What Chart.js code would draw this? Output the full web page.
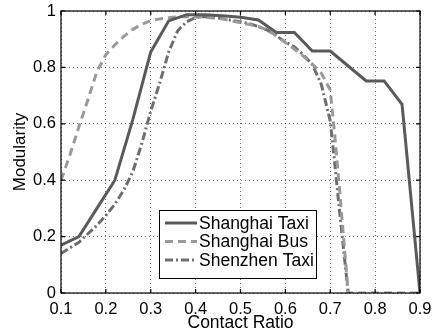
<!DOCTYPE html>
<html>
<head>
<meta charset="utf-8">
<script src="https://cdn.jsdelivr.net/npm/chart.js@4.4.1/dist/chart.umd.min.js"></script>
<style>
  html, body { margin: 0; padding: 0; background: #fff; }
  canvas { display: block; }
</style>
</head>
<body>
<canvas id="chart" width="436" height="334"></canvas>
<script>
// Contact ratio (x) and modularity (y) for each network
const taxiX = [0.10, 0.14, 0.18, 0.22, 0.26, 0.30, 0.34, 0.38, 0.42, 0.46, 0.50,
               0.54, 0.58, 0.62, 0.66, 0.70, 0.74, 0.78, 0.82, 0.86, 0.90];
const taxiY = [0.170, 0.200, 0.300, 0.400, 0.615, 0.855, 0.965, 0.987, 0.987, 0.983, 0.978,
               0.968, 0.924, 0.924, 0.858, 0.858, 0.805, 0.752, 0.752, 0.669, 0.000];

const busX = [0.10, 0.12, 0.14, 0.16, 0.18, 0.20, 0.22, 0.24, 0.26, 0.28, 0.30,
              0.32, 0.34, 0.36, 0.38, 0.40, 0.42, 0.44, 0.46, 0.48, 0.50,
              0.52, 0.54, 0.56, 0.58, 0.60, 0.62, 0.64, 0.66, 0.68, 0.70,
              0.71, 0.72, 0.73, 0.74, 0.76, 0.78, 0.80, 0.82, 0.84, 0.86, 0.88, 0.90];
const busY = [0.400, 0.490, 0.590, 0.685, 0.785, 0.845, 0.880, 0.910, 0.935, 0.953, 0.966,
              0.972, 0.976, 0.979, 0.980, 0.979, 0.978, 0.975, 0.972, 0.965, 0.958,
              0.952, 0.945, 0.932, 0.912, 0.888, 0.865, 0.840, 0.812, 0.780, 0.720,
              0.560, 0.380, 0.190, 0.000, 0.000, 0.000, 0.000, 0.000, 0.000, 0.000, 0.000, 0.000];

const shenzhenX = [0.10, 0.12, 0.14, 0.16, 0.18, 0.20, 0.22, 0.24, 0.26, 0.28, 0.30,
                   0.32, 0.34, 0.36, 0.38, 0.40, 0.42, 0.44, 0.46, 0.48, 0.50,
                   0.52, 0.54, 0.56, 0.58, 0.60, 0.62, 0.64, 0.66, 0.68, 0.70,
                   0.71, 0.72, 0.73, 0.74];
const shenzhenY = [0.140, 0.160, 0.180, 0.210, 0.240, 0.275, 0.315, 0.365, 0.430, 0.530, 0.645,
                   0.745, 0.855, 0.930, 0.962, 0.977, 0.980, 0.978, 0.973, 0.967, 0.962,
                   0.955, 0.945, 0.932, 0.912, 0.890, 0.873, 0.845, 0.810, 0.740, 0.610,
                   0.460, 0.300, 0.150, 0.000];

const seriesNames = ['Shanghai Taxi', 'Shanghai Bus', 'Shenzhen Taxi'];
const xTickLabels = ['0.1', '0.2', '0.3', '0.4', '0.5', '0.6', '0.7', '0.8', '0.9'];
const yTickLabels = ['0', '0.2', '0.4', '0.6', '0.8', '1'];

const FONT = 'Liberation Sans, Arial, Helvetica, sans-serif';

function pairs(xs, ys) {
  return xs.map((x, i) => ({ x: x, y: ys[i] }));
}

// Box frame with inward tick marks, plus a legend inside the plot area
const framePlugin = {
  id: 'frame',
  afterDraw(chart) {
    const ctx = chart.ctx;
    const a = chart.chartArea;
    const xs = chart.scales.x, ys = chart.scales.y;
    ctx.save();
    ctx.strokeStyle = '#000';
    ctx.lineWidth = 1.2;
    ctx.strokeRect(a.left, a.top, a.right - a.left, a.bottom - a.top);
    const t = 4;
    ctx.beginPath();
    xs.ticks.forEach(tk => {
      const px = xs.getPixelForValue(tk.value);
      ctx.moveTo(px, a.bottom); ctx.lineTo(px, a.bottom - t);
      ctx.moveTo(px, a.top); ctx.lineTo(px, a.top + t);
    });
    ys.ticks.forEach(tk => {
      const py = ys.getPixelForValue(tk.value);
      ctx.moveTo(a.left, py); ctx.lineTo(a.left + t, py);
      ctx.moveTo(a.right, py); ctx.lineTo(a.right - t, py);
    });
    ctx.stroke();

    // legend
    const box = { x: 159, y: 210, w: 157, h: 68 };
    ctx.fillStyle = '#fff';
    ctx.fillRect(box.x, box.y, box.w, box.h);
    ctx.lineWidth = 1;
    ctx.strokeStyle = '#000';
    ctx.strokeRect(box.x + 0.5, box.y + 0.5, box.w, box.h);
    ctx.font = '17.5px ' + FONT;
    ctx.textBaseline = 'middle';
    ctx.textAlign = 'left';
    chart.data.datasets.forEach((ds, i) => {
      const yy = box.y + 13 + i * 18.5;
      ctx.save();
      ctx.strokeStyle = ds.borderColor;
      ctx.lineWidth = ds.borderWidth;
      ctx.setLineDash(ds.borderDash || []);
      ctx.beginPath();
      ctx.moveTo(box.x + 6, yy);
      ctx.lineTo(box.x + 38, yy);
      ctx.stroke();
      ctx.restore();
      ctx.fillStyle = '#000';
      ctx.fillText(ds.label, box.x + 40, yy + 1);
    });
    ctx.restore();
  }
};

new Chart(document.getElementById('chart'), {
  type: 'line',
  data: {
    datasets: [
      {
        label: seriesNames[0],
        data: pairs(taxiX, taxiY),
        borderColor: '#5a5a5a',
        borderWidth: 3,
        borderDash: [],
        pointRadius: 0,
        tension: 0,
        fill: false
      },
      {
        label: seriesNames[1],
        data: pairs(busX, busY),
        borderColor: '#9a9a9a',
        borderWidth: 3,
        borderDash: [8, 5],
        pointRadius: 0,
        tension: 0,
        fill: false
      },
      {
        label: seriesNames[2],
        data: pairs(shenzhenX, shenzhenY),
        borderColor: '#6e6e6e',
        borderWidth: 3,
        borderDash: [8, 3, 2, 3],
        pointRadius: 0,
        tension: 0,
        fill: false
      }
    ]
  },
  options: {
    responsive: false,
    animation: false,
    devicePixelRatio: 1,
    layout: { padding: { top: 11, right: 16, left: 0, bottom: 0 } },
    plugins: {
      legend: { display: false },
      tooltip: { enabled: false }
    },
    scales: {
      x: {
        type: 'linear',
        min: 0.1,
        max: 0.9,
        afterFit(s) { s.height = 41; s.paddingLeft = 0; s.paddingRight = 0; },
        ticks: {
          stepSize: 0.1,
          color: '#000',
          padding: 7,
          maxRotation: 0,
          autoSkip: false,
          font: { family: FONT, size: 16.5 },
          callback: (v, i) => xTickLabels[i]
        },
        grid: { color: 'rgba(0,0,0,0.55)', lineWidth: 1, drawTicks: false },
        border: { display: false, dash: [1, 3] },
        title: {
          display: true,
          text: 'Contact Ratio',
          color: '#000',
          font: { family: FONT, size: 17.5 },
          padding: { top: 0, bottom: 0 }
        }
      },
      y: {
        type: 'linear',
        min: 0,
        max: 1,
        afterFit(s) { s.width = 61; s.paddingTop = 0; s.paddingBottom = 0; },
        ticks: {
          stepSize: 0.2,
          color: '#000',
          padding: 5,
          autoSkip: false,
          font: { family: FONT, size: 16.5 },
          callback: (v, i) => yTickLabels[i]
        },
        grid: { color: 'rgba(0,0,0,0.55)', lineWidth: 1, drawTicks: false },
        border: { display: false, dash: [1, 3] },
        title: {
          display: true,
          text: 'Modularity',
          color: '#000',
          font: { family: FONT, size: 17 },
          padding: { top: 10, bottom: 0 }
        }
      }
    }
  },
  plugins: [framePlugin]
});
</script>
</body>
</html>
